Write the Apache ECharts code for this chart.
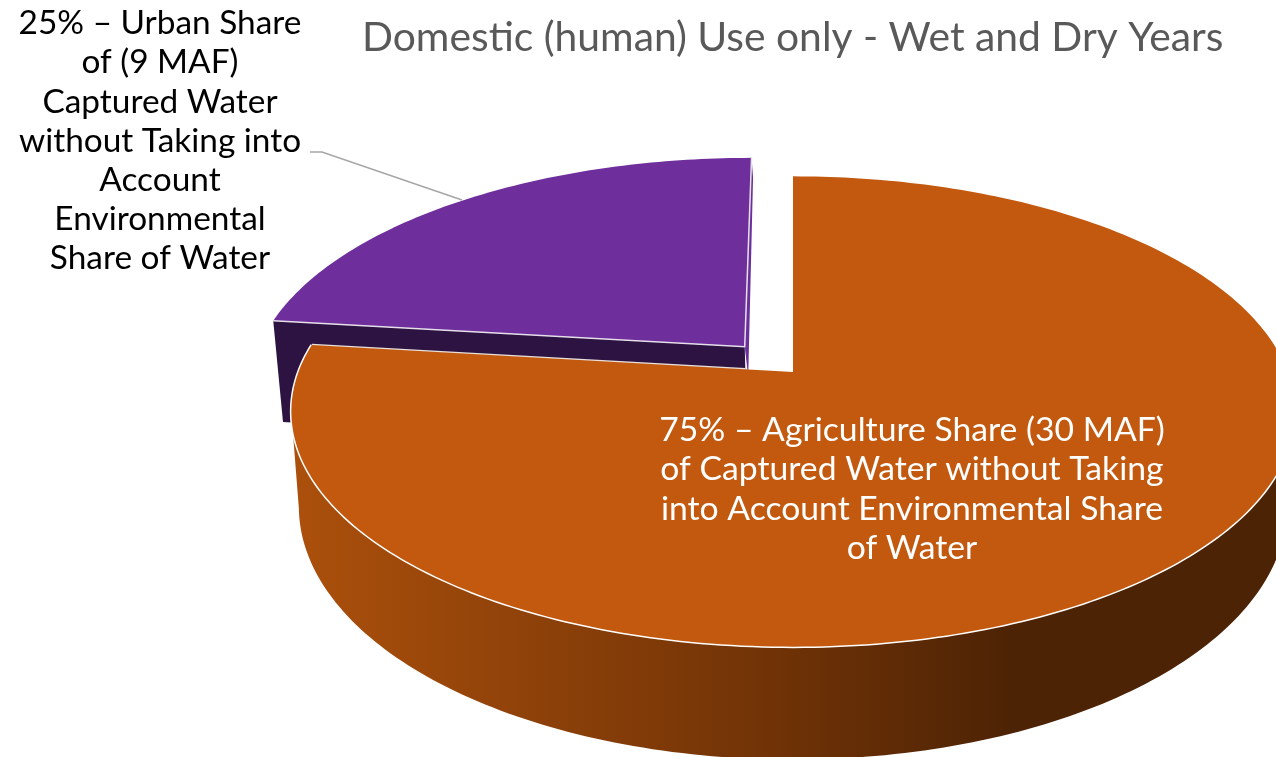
<!DOCTYPE html>
<html><head><meta charset="utf-8">
<style>html,body{margin:0;padding:0;background:#fff}#c{width:1276px;height:757px}</style>
<script src="https://cdn.jsdelivr.net/npm/echarts@6/dist/echarts.min.js"></script>
</head><body><div id="c"></div>
<script>
const chartTitle = 'Domestic (human) Use only - Wet and Dry Years';
const categories = ['Urban', 'Agriculture'];
const values = [9, 30];
const labels = [
  ['25% – Urban Share','of (9 MAF)','Captured Water','without Taking into','Account','Environmental','Share of Water'],
  ['75% – Agriculture Share (30 MAF)','of Captured Water without Taking','into Account Environmental Share','of Water']
];
const FONT = 'Lato';
const TILT = {cx:793, cy:372, R:494.5, Ry:228.5, k:0.168, explode:0.15};
const WALL = {sx:0.985, x0:790, xc:790, y0:411, yc:506, sy:1.076};
const total = values.reduce((a,b)=>a+b,0);
function proj(u,v){const d=1+TILT.k*v;return [TILT.cx+TILT.R*u/d, TILT.cy-TILT.Ry*v/d];}
function low(p){return [WALL.xc+(p[0]-WALL.x0)*WALL.sx, WALL.yc+(p[1]-WALL.y0)*WALL.sy];}
function lowU(p){const q=low(p);return [q[0]+2,q[1]+13];}
function rad(d){return d*Math.PI/180;}
function arc(a0,a1,ox,oy){const pts=[];const n=Math.max(8,Math.ceil(Math.abs(a1-a0)));
  for(let i=0;i<=n;i++){const t=rad(a0+(a1-a0)*i/n);pts.push(proj(Math.sin(t)+ox,Math.cos(t)+oy));}return pts;}
const wallGrad = new echarts.graphic.LinearGradient(0,0,1,0,[
  {offset:0,color:'#ac500c'},{offset:0.49,color:'#6f3206'},{offset:0.72,color:'#4d2305'},{offset:1,color:'#4c2305'}]);
function renderItem(params, api){
  const idx=params.dataIndex; const val=api.value(0);
  const before=values.slice(0,idx).reduce((a,b)=>a+b,0);
  const a0=(before-values[0])/total*360, a1=a0+val/total*360;
  const kids=[]; const urban=idx===0;
  const mid=rad((a0+a1)/2); const ox=urban?Math.sin(mid)*TILT.explode:0, oy=urban?Math.cos(mid)*TILT.explode:0;
  const top=arc(a0,a1,ox,oy), apex=proj(ox,oy);
  if(urban){
    const s=top[0], e=top[top.length-1];
    kids.push({type:'polygon',shape:{points:[e,[e[0]+1.5,e[1]+20],[apex[0]+3.5,apex[1]+30],[apex[0],apex[1]]]},style:{fill:'#6b2f9b'}});
    kids.push({type:'polygon',shape:{points:[s,apex,lowU(apex),lowU(s)]},style:{fill:'#2c1342'}});
    kids.push({type:'polygon',shape:{points:top.concat([apex])},style:{fill:'#6e2f9c'}});
    kids.push({type:'polyline',shape:{points:[s,apex,e]},style:{fill:'none',stroke:'#e6e0ea',lineWidth:1.5}});
    kids.push({type:'polyline',shape:{points:[[462,200],[322,152],[310,152]]},style:{fill:'none',stroke:'#a6a6a6',lineWidth:1.5}});
    kids.push({type:'text',style:{text:labels[0].join('\n'),x:160,y:4,align:'center',verticalAlign:'top',font:'33.4px '+FONT,fill:'#000',lineHeight:39.1,textAlign:'center'}});
  } else {
    let iMin=0,iMax=0;
    top.forEach((p,i)=>{if(p[0]<top[iMin][0])iMin=i; if(p[0]>top[iMax][0])iMax=i;});
    const rim=top.slice(iMax,iMin+1);
    const wall=rim.concat(rim.slice().reverse().map(low));
    kids.push({type:'polygon',shape:{points:wall},style:{fill:wallGrad}});
    kids.push({type:'polyline',shape:{points:top.slice(85)},style:{fill:'none',stroke:'#fff',lineWidth:3}});
    kids.push({type:'polyline',shape:{points:[top[top.length-1],[apex[0]-48,apex[1]-2.7]]},style:{fill:'none',stroke:'#e8e0da',lineWidth:2.4}});
    kids.push({type:'polygon',shape:{points:top.concat([apex])},style:{fill:'#c2590f'}});
    kids.push({type:'text',style:{text:labels[1].join('\n'),x:912,y:410,align:'center',verticalAlign:'top',font:'33.7px '+FONT,fill:'#fff',lineHeight:39.5,textAlign:'center'}});
  }
  return {type:'group',children:kids};
}
const chart=echarts.init(document.getElementById('c'),null,{renderer:'canvas'});
chart.setOption({
  animation:false,
  backgroundColor:'#fff',
  title:{text:chartTitle,left:357,top:12,textStyle:{color:'#595959',fontSize:40.8,fontWeight:'normal',fontFamily:FONT}},
  series:[{type:'custom',coordinateSystem:'none',renderItem,clip:false,data:categories.map((c,i)=>({name:c,value:[values[i]]}))}]
});
</script></body></html>
